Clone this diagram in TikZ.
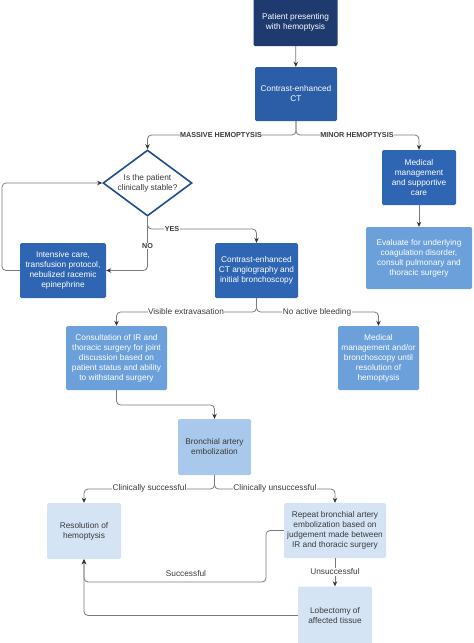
\documentclass[tikz,border=0pt]{standalone}
\usepackage{fontspec}
\setmainfont{Liberation Sans}
\usetikzlibrary{shapes.geometric,arrows.meta}
\definecolor{navy}{HTML}{1E3A6E}
\definecolor{blueA}{HTML}{2B5EA6}
\definecolor{blueB}{HTML}{2F66B3}
\definecolor{blueC}{HTML}{6CA0DA}
\definecolor{blueD}{HTML}{A9C9EC}
\definecolor{blueE}{HTML}{D5E4F5}
\definecolor{diaedge}{HTML}{1F4E8F}
\definecolor{txtdark}{HTML}{3A3A3A}
\definecolor{linegray}{HTML}{7A7A7A}
\definecolor{tipcol}{HTML}{333333}
\tikzset{
  base/.style={rectangle, rounded corners=1.5pt, align=center, inner sep=1pt,
    font=\fontsize{8.3}{10}\selectfont},
  darkbox/.style={base, fill=#1, text=white},
  lightbox/.style={base, fill=#1, text=txtdark},
  conn/.style={draw=linegray, line width=0.8pt, rounded corners=4pt,
    -{Stealth[length=5pt,width=4.5pt,color=tipcol,fill=tipcol]}},
  lbl/.style={fill=white, inner sep=0.5pt, text=txtdark, font=\fontsize{8.3}{10}\selectfont},
  blbl/.style={fill=white, inner sep=0.5pt, text=txtdark, font=\bfseries\fontsize{7.2}{9}\selectfont},
}
\begin{document}
\begin{tikzpicture}[x=1pt,y=-1pt]
\useasboundingbox (0,0) rectangle (474,643);
% boxes
\node[darkbox=navy, minimum width=84pt, minimum height=48pt] (b1) at (295.5,22) {Patient presenting\\with hemoptysis};
\node[darkbox=blueA, minimum width=82pt, minimum height=54pt] (b2) at (296,94) {Contrast-enhanced\\CT};
\node[shape=diamond, aspect=1.35, inner sep=0pt, minimum width=89pt, minimum height=66pt,
  draw=diaedge, line width=1.6pt, fill=white, align=center, text=txtdark,
  font=\fontsize{8.3}{10}\selectfont] (dia) at (147.5,183) {Is the patient\\clinically stable?};
\node[darkbox=blueB, minimum width=86pt, minimum height=55pt] (icu) at (63,270.5) {Intensive care,\\transfusion protocol,\\nebulized racemic\\epinephrine};
\node[darkbox=blueB, minimum width=83pt, minimum height=55pt] (cta) at (256.5,270.5) {Contrast-enhanced\\CT angiography and\\initial bronchoscopy};
\node[darkbox=blueB, minimum width=74pt, minimum height=55pt] (med) at (419,177.5) {Medical\\management\\and supportive\\care};
\node[darkbox=blueC, minimum width=106pt, minimum height=62pt] (eval) at (419,258) {Evaluate for underlying\\coagulation disorder,\\consult pulmonary and\\thoracic surgery};
\node[darkbox=blueC, minimum width=101pt, minimum height=64pt] (cons) at (116.5,358) {Consultation of IR and\\thoracic surgery for joint\\discussion based on\\patient status and ability\\to withstand surgery};
\node[darkbox=blueC, minimum width=81pt, minimum height=64pt] (medor) at (378.5,358) {Medical\\management and/or\\bronchoscopy until\\resolution of\\hemoptysis};
\node[lightbox=blueD, minimum width=73pt, minimum height=56pt] (bae) at (214.5,447) {Bronchial artery\\embolization};
\node[lightbox=blueE, minimum width=74pt, minimum height=56pt] (res) at (84,531) {Resolution of\\hemoptysis};
\node[lightbox=blueE, minimum width=102pt, minimum height=55pt] (rep) at (335,530.5) {Repeat bronchial artery\\embolization based on\\judgement made between\\IR and thoracic surgery};
\node[lightbox=blueE, minimum width=74pt, minimum height=58pt] (lob) at (335,615.5) {Lobectomy of\\affected tissue};
% split coordinates
\coordinate (s1) at (296,135);
\coordinate (s2) at (147.5,229);
\coordinate (s3) at (256.5,312);
\coordinate (s4) at (116.5,405);
\coordinate (s5) at (214.5,489);
\coordinate (s6) at (266,582);
\coordinate (s7) at (2,183);
% connectors
\draw[conn] (b1) -- (b2);
\draw[conn] (b2.south) -- (s1) -| (dia.north);
\draw[conn] (b2.south) -- (s1) -| (med.north);
\draw[conn] (dia.south) |- (icu.east);
\draw[conn] (dia.south) -- (s2) -| (cta.north);
\draw[conn] (icu.west) -| (s7) -- (dia.west);
\draw[conn] (med) -- (eval);
\draw[conn] (cta.south) -- (s3) -| (cons.north);
\draw[conn] (cta.south) -- (s3) -| (medor.north);
\draw[conn] (cons.south) -- (s4) -| (bae.north);
\draw[conn] (bae.south) -- (s5) -| (res.north);
\draw[conn] (bae.south) -- (s5) -| (rep.north);
\draw[conn] (rep.west) -| (s6) -| (res.south);
\draw[conn] (rep) -- (lob);
\draw[conn] (lob.west) -| (res.south);
% labels
\node[blbl] (l1) at (221,135) {MASSIVE HEMOPTYSIS};
\node[blbl] (l2) at (357,135) {MINOR HEMOPTYSIS};
\node[blbl] (l3) at (172,229) {YES};
\node[blbl] (l4) at (147.5,246) {NO};
\node[lbl] (l5) at (186,312) {Visible extravasation};
\node[lbl] (l6) at (317,312) {No active bleeding};
\node[lbl] (l7) at (149.5,488.5) {Clinically successful};
\node[lbl] (l8) at (275,488.5) {Clinically unsuccessful};
\node[lbl] (l9) at (186,574) {Successful};
\node[lbl] (l10) at (335,572) {Unsuccessful};
\end{tikzpicture}
\end{document}
